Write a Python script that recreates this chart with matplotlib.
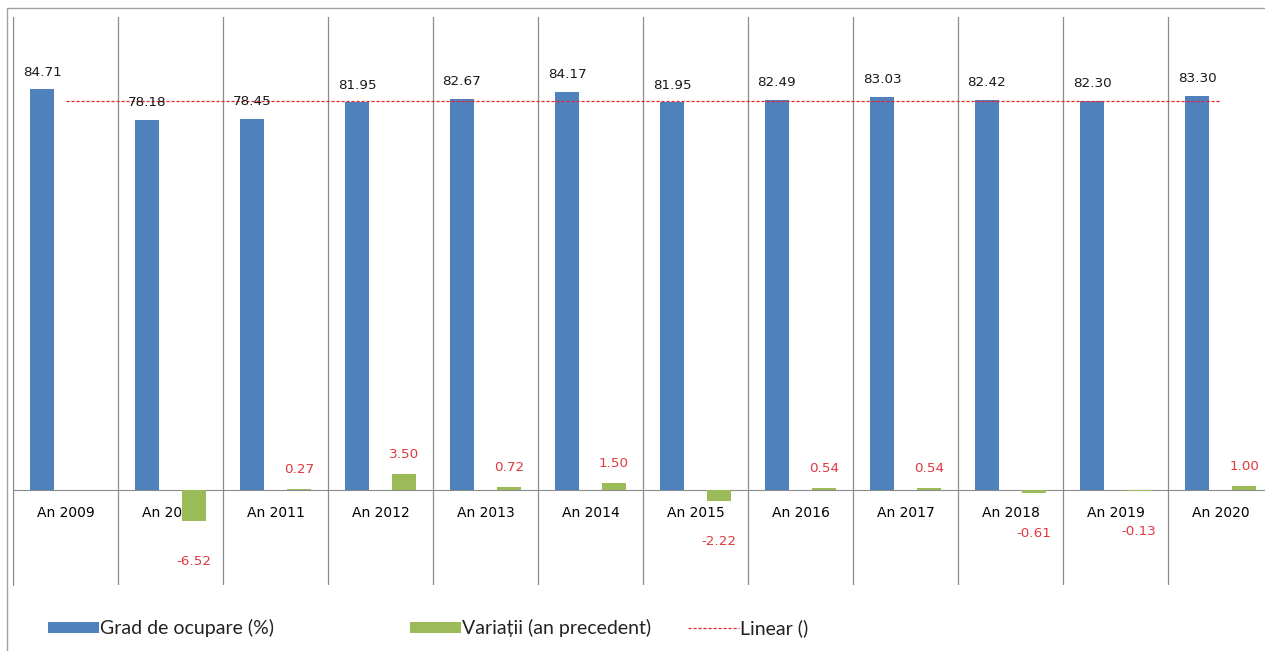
import matplotlib
matplotlib.use("Agg")
import matplotlib.pyplot as plt
from matplotlib.patches import Patch, Rectangle
from matplotlib.lines import Line2D
import numpy as np

categories = ["An 2009", "An 2010", "An 2011", "An 2012", "An 2013", "An 2014",
              "An 2015", "An 2016", "An 2017", "An 2018", "An 2019", "An 2020"]
grad_ocupare = [84.71, 78.18, 78.45, 81.95, 82.67, 84.17, 81.95, 82.49, 83.03, 82.42, 82.30, 83.30]
variatii = [None, -6.52, 0.27, 3.50, 0.72, 1.50, -2.22, 0.54, 0.54, -0.61, -0.13, 1.00]

BLUE = "#4F81BD"
GREEN = "#9BBB59"
RED = "#E0393E"
LINE_RED = "#E8252B"
GRID = "#8C8C8C"

W, H = 1265, 651
fig = plt.figure(figsize=(W / 100, H / 100), dpi=100)

# outer chart frame
fig.patches.append(Rectangle((7 / W, -0.05), 1.1, 1 - 8 / H + 0.05, transform=fig.transFigure,
                             fill=False, edgecolor="#A0A0A0", lw=1.0))

left_px, right_px, top_px, bot_px = 13, 1273, 17, 585
ax = fig.add_axes([left_px / W, 1 - bot_px / H, (right_px - left_px) / W, (bot_px - top_px) / H])
ax.set_xlim(-0.5, len(categories) - 0.5)
ax.set_ylim(-20, 100)

x = np.arange(len(categories))
bw = 0.22
off = 0.224
ax.bar(x - off, grad_ocupare, width=bw, color=BLUE, zorder=3)
vx = [xi + off for xi, v in zip(x, variatii) if v is not None]
vv = [v for v in variatii if v is not None]
ax.bar(vx, vv, width=bw, color=GREEN, zorder=3)

# linear trend line (flat, at mean level)
trend = np.mean(grad_ocupare)
ax.plot([x[0], x[-1]], [trend + 0.2, trend + 0.2], color=LINE_RED, lw=0.9,
        ls=(0, (2.5, 1.5)), zorder=4)

# data labels
for xi, v in zip(x, grad_ocupare):
    ax.annotate(f"{v:.2f}", (xi - off, v), xytext=(0, 12.5), textcoords="offset points",
                ha="center", va="center", fontsize=9.7, color="#1A1A1A", zorder=5)
for xi, v in zip(vx, vv):
    dy = 14 if v >= 0 else -29
    ax.annotate(f"{v:.2f}", (xi, v), xytext=(0, dy), textcoords="offset points",
                ha="center", va="center", fontsize=9.7, color=RED, zorder=5)

# category separators
for b in np.arange(-0.5, len(categories) + 0.5, 1.0):
    ax.axvline(b, color=GRID, lw=0.9, zorder=1)

ax.set_xticks(x)
ax.set_xticklabels(categories, fontsize=8.8, color="#1A1A1A")
ax.tick_params(axis="x", length=0, pad=11)
ax.set_yticks([])
ax.spines["bottom"].set_position(("data", 0))
ax.spines["bottom"].set_color(GRID)
ax.spines["bottom"].set_zorder(2)
ax.spines["left"].set_color(GRID)
ax.spines["top"].set_visible(False)
ax.spines["right"].set_visible(False)
ax.patch.set_alpha(0)

# legend entries placed individually
leg_font = {"family": "Lato", "size": 14}
entries = [
    (Patch(facecolor=BLUE, edgecolor="none"), "Grad de ocupare (%)", 48),
    (Patch(facecolor=GREEN, edgecolor="none"), "Variații (an precedent)", 410),
    (Line2D([0], [0], color=LINE_RED, lw=0.9, ls=(0, (2.5, 1.5))), "Linear ()", 688),
]
for handle, label, xpx in entries:
    lg = fig.legend([handle], [label], loc="center left",
                    bbox_to_anchor=(xpx / W, 1 - 628 / H), frameon=False, prop=leg_font,
                    handlelength=2.6, handleheight=0.5, handletextpad=0.1,
                    borderaxespad=0, borderpad=0)
    for t in lg.get_texts():
        t.set_color("#222222")

fig.savefig("out.png", dpi=100)
